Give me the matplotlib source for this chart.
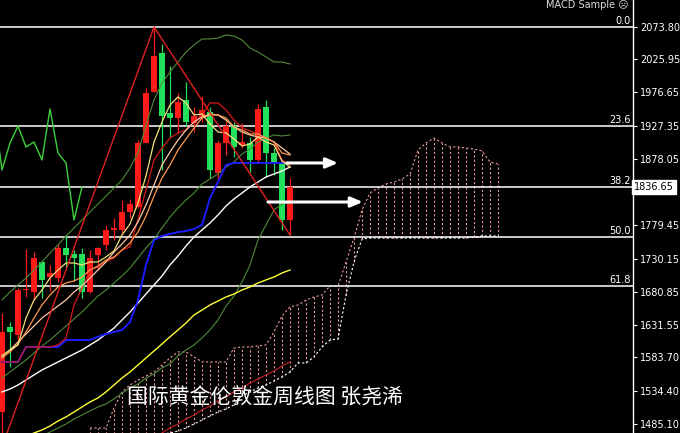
import numpy as np
import matplotlib
matplotlib.use("Agg")
import matplotlib.pyplot as plt
import matplotlib.transforms as mtransforms

# weekly candles (gold, USD)
opens = [1502.8, 1628.9, 1617.0, 1683.7, 1680.8, 1725.3, 1703.0, 1701.5, 1746.0, 1737.1,
         1737.1, 1680.8, 1735.6, 1750.5, 1772.7, 1772.7, 1799.4, 1806.8, 1901.7, 1977.4,
         2035.2, 1946.2, 1938.8, 1965.5, 1931.4, 1940.3, 1947.7, 1857.2, 1901.7, 1926.9,
         1898.8, 1901.7, 1876.5, 1955.1, 1886.9, 1872.1, 1787.5]
highs = [1649.6, 1636.3, 1686.7, 1744.5, 1740.1, 1728.2, 1720.8, 1752.0, 1765.3, 1743.0,
         1746.0, 1743.0, 1747.5, 1780.1, 1790.5, 1817.2, 1818.7, 1906.2, 1983.3, 2073.8,
         2048.5, 2015.9, 1975.9, 1992.2, 1955.1, 1971.4, 1955.1, 1906.2, 1934.4, 1932.9,
         1931.4, 1910.6, 1959.6, 1965.5, 1894.3, 1876.5, 1849.8]
lows = [1451.0, 1569.5, 1609.6, 1673.3, 1668.9, 1671.9, 1682.2, 1695.6, 1717.8, 1697.1,
        1671.9, 1679.3, 1713.4, 1743.0, 1757.9, 1768.3, 1790.5, 1805.3, 1901.7, 1977.4,
        1861.7, 1910.6, 1916.6, 1926.9, 1918.0, 1932.9, 1849.8, 1846.9, 1883.9, 1881.0,
        1894.3, 1858.7, 1872.1, 1851.3, 1854.3, 1772.7, 1765.3]
closes = [1621.4, 1621.4, 1683.7, 1685.2, 1731.2, 1698.6, 1708.9, 1746.0, 1735.6, 1731.2,
          1680.8, 1731.2, 1746.0, 1772.7, 1775.7, 1799.4, 1811.3, 1901.7, 1975.9, 2030.7,
          1941.8, 1938.8, 1962.5, 1932.9, 1941.8, 1950.7, 1861.7, 1901.7, 1926.9, 1895.8,
          1903.2, 1876.5, 1952.2, 1886.9, 1872.1, 1787.5, 1836.65]

# indicator lines, one value per candle
ma5 = [1585.9, 1594.7, 1602.2, 1642.1, 1668.9, 1683.7, 1701.5, 1713.4, 1723.8, 1723.8,
       1720.8, 1725.3, 1725.3, 1732.7, 1741.6, 1765.3, 1781.6, 1812.8, 1852.8, 1903.2,
       1932.9, 1958.1, 1970.0, 1961.1, 1943.3, 1944.7, 1929.9, 1918.0, 1916.6, 1907.7,
       1897.3, 1900.2, 1910.6, 1903.2, 1898.8, 1875.0, 1866.1]
ma10 = [1582.9, 1591.8, 1603.6, 1621.4, 1642.1, 1661.5, 1676.3, 1688.2, 1694.1, 1697.1,
        1703.0, 1713.4, 1719.3, 1728.2, 1732.7, 1743.0, 1753.4, 1769.7, 1793.5, 1823.1,
        1849.8, 1869.1, 1891.3, 1907.7, 1924.0, 1938.8, 1943.3, 1943.3, 1938.8, 1925.5,
        1921.0, 1915.1, 1915.1, 1909.1, 1903.2, 1886.9, 1883.9]
ema_pale = [1585.9, 1594.7, 1606.6, 1618.4, 1630.3, 1642.1, 1651.1, 1660.0, 1668.9, 1680.8,
            1689.7, 1701.5, 1713.4, 1725.3, 1740.1, 1751.9, 1765.3, 1784.6, 1809.8, 1839.4,
            1869.1, 1888.4, 1906.2, 1921.0, 1932.9, 1940.3, 1944.7, 1943.3, 1935.8, 1925.5,
            1918.0, 1913.6, 1910.6, 1909.1, 1903.2, 1894.3, 1885.4]
tenkan = [1577.0, 1577.0, 1577.0, 1599.2, 1599.2, 1599.2, 1599.2, 1602.2, 1612.5, 1661.5,
          1686.7, 1713.4, 1717.8, 1725.3, 1731.2, 1743.0, 1747.5, 1789.0, 1832.0, 1876.5,
          1894.3, 1909.1, 1916.6, 1921.0, 1932.9, 1943.3, 1961.1, 1961.1, 1950.7, 1935.8,
          1924.0, 1919.5, 1915.1, 1909.1, 1903.2, 1876.5, 1869.1]
kijun = [1577.0, 1577.0, 1577.0, 1599.2, 1599.2, 1599.2, 1599.2, 1599.2, 1609.5, 1609.5,
         1609.5, 1609.5, 1614.3, 1618.4, 1621.4, 1624.4, 1636.2, 1668.9, 1720.8, 1757.9,
         1763.8, 1766.8, 1769.7, 1771.2, 1774.2, 1780.1, 1820.2, 1843.9, 1869.1, 1872.1,
         1872.1, 1872.1, 1872.1, 1872.1, 1872.1, 1872.1, 1872.1]
ma_white = [1532.5, 1536.9, 1542.8, 1550.3, 1557.7, 1565.1, 1571.0, 1577.0, 1582.9, 1588.8,
            1594.7, 1602.2, 1609.5, 1618.4, 1627.3, 1639.2, 1651.1, 1664.4, 1677.8, 1691.1,
            1704.5, 1720.8, 1734.1, 1749.0, 1762.3, 1772.7, 1783.1, 1795.0, 1808.3, 1818.7,
            1827.6, 1836.5, 1843.9, 1851.3, 1855.8, 1860.2, 1866.1]
bb_upper = [1668.9, 1680.8, 1691.1, 1701.5, 1713.4, 1725.3, 1738.6, 1750.5, 1763.8, 1775.7,
            1787.5, 1799.4, 1811.3, 1823.1, 1835.0, 1846.9, 1864.7, 1886.9, 1928.4, 1965.5,
            1990.7, 2007.0, 2021.9, 2036.7, 2047.1, 2056.0, 2056.0, 2057.4, 2061.9, 2060.4,
            2054.5, 2042.6, 2036.7, 2029.3, 2021.9, 2021.9, 2018.9]
bb_mid = [1553.2, 1562.1, 1571.0, 1579.9, 1590.3, 1600.7, 1609.5, 1619.9, 1630.3, 1640.7,
          1651.1, 1663.0, 1674.8, 1683.7, 1694.1, 1704.5, 1716.3, 1731.2, 1746.0, 1759.3,
          1775.7, 1792.0, 1805.4, 1817.2, 1827.6, 1840.9, 1848.3, 1855.8, 1866.1, 1873.5,
          1885.4, 1892.8, 1903.2, 1909.1, 1913.6, 1912.1, 1913.6]
bb_lower = [1431.6, 1439.0, 1446.4, 1452.3, 1459.7, 1467.1, 1473.1, 1479.0, 1485.0, 1492.4,
            1498.3, 1504.3, 1510.2, 1514.7, 1522.1, 1531.0, 1538.4, 1544.3, 1553.2, 1559.2,
            1568.1, 1574.0, 1585.9, 1594.7, 1602.2, 1612.5, 1624.4, 1639.2, 1660.0, 1674.8,
            1695.6, 1720.8, 1757.9, 1780.1, 1802.4, 1811.3, 1812.8]
ma_yellow = [1452.3, 1456.8, 1461.2, 1467.1, 1471.6, 1476.1, 1482.0, 1489.4, 1495.4, 1502.8,
             1510.2, 1517.6, 1523.6, 1532.5, 1542.8, 1553.2, 1562.1, 1572.5, 1582.9, 1593.3,
             1603.6, 1614.3, 1624.4, 1634.8, 1646.6, 1654.0, 1661.5, 1667.4, 1673.3, 1677.8,
             1683.7, 1688.2, 1694.1, 1698.6, 1703.0, 1708.9, 1713.4]
ma_red_start = 14
ma_red = [1433.1, 1439.0, 1446.4, 1452.3, 1459.7, 1465.7, 1471.6, 1479.0, 1485.0, 1492.4,
          1498.3, 1505.8, 1511.7, 1519.1, 1525.1, 1532.5, 1538.4, 1545.8, 1551.7, 1557.7,
          1563.6, 1571.0, 1577.0]

# ichimoku cloud, starts at candle 11 and runs 26 weeks ahead
cloud_start = 11
span_a = [1479.0, 1479.0, 1479.0, 1508.7, 1532.5, 1542.8, 1550.3, 1556.2, 1562.1, 1572.5,
          1582.9, 1591.8, 1591.8, 1584.4, 1577.0, 1577.0, 1577.0, 1577.0, 1597.7, 1599.2,
          1599.2, 1600.7, 1602.2, 1621.4, 1645.1, 1658.5, 1661.5, 1668.9, 1673.3, 1676.3,
          1689.7, 1689.7, 1725.3, 1760.8, 1802.4, 1827.6, 1835.0, 1840.9, 1843.9, 1848.3,
          1855.8, 1891.3, 1901.7, 1909.1, 1901.7, 1895.8, 1895.8, 1894.3, 1892.8, 1889.9,
          1873.5, 1870.6]
span_b = [1416.7, 1422.7, 1428.6, 1434.5, 1440.5, 1446.4, 1452.3, 1458.3, 1464.2, 1470.1,
          1471.6, 1474.6, 1479.0, 1485.0, 1490.9, 1496.9, 1502.8, 1507.3, 1513.2, 1526.5,
          1532.5, 1538.4, 1542.8, 1548.8, 1554.7, 1562.1, 1575.5, 1575.5, 1584.4, 1599.2,
          1609.5, 1611.0, 1676.3, 1725.3, 1759.3, 1760.8, 1760.8, 1760.8, 1760.8, 1760.8,
          1760.8, 1760.8, 1760.8, 1760.8, 1760.8, 1760.8, 1760.8, 1760.8, 1762.3, 1763.8,
          1763.8, 1763.8]

fib_ratios = [0.0, 23.6, 38.2, 50.0, 61.8]
zigzag_idx = [0, 19, 36]
price_ticks = [2073.80, 2025.95, 1976.65, 1927.35, 1878.05, 1828.75, 1779.45,
               1730.15, 1680.85, 1631.55, 1583.70, 1534.40, 1485.10]
hidden_tick = 1828.75  # sits under the current-price box
arrow_from = [35.6, 33.25]
arrow_to = [42.0, 45.1]
arrow_level = [1872.1, 1814.2]
titulo = "国际黄金伦敦金周线图 张尧浠"

opens, highs, lows, closes = map(np.array, (opens, highs, lows, closes))
x = np.arange(len(closes))

fig = plt.figure(figsize=(6.8, 4.33), dpi=100, facecolor="black")
ax = fig.add_axes([0, 0, 633 / 680, 1])
ax.set_facecolor("black")
ax.set_xlim(-0.25, 78.875)
ax.set_ylim(1471.6, 2113.8)

# cloud
cx = np.arange(cloud_start, cloud_start + len(span_a))
ax.vlines(cx, span_b, span_a, colors="#e89a9a", linestyles=(0, (2, 2)), lw=0.8, zorder=1)
ax.plot(cx, span_a, color="#e89a9a", ls=(0, (2, 2)), lw=0.8, zorder=1)
ax.plot(cx, span_b, color="white", ls=(0, (2, 2)), lw=0.8, zorder=1)

# fibonacci
hi, lo = highs[19], lows[0]
blend = mtransforms.blended_transform_factory(ax.transAxes, ax.transData)
for r in fib_ratios:
    lvl = hi - r / 100 * (hi - lo)
    ax.axhline(lvl, color="white", lw=1.1, zorder=2)
    ax.text(0.996, lvl + 1.5, f"{r:.1f}", transform=blend, ha="right", va="bottom",
            fontsize=7, color="white")

# candles
col = np.where(closes >= opens, "#ff1a1a", "#22e05a")
ax.vlines(x, lows, highs, colors=col, lw=0.9, zorder=3)
body_lo = np.minimum(opens, closes)
body_h = np.maximum(np.abs(closes - opens), 1.5)
ax.bar(x, body_h, 0.7, bottom=body_lo, color=col, zorder=3)

# lines
ax.plot(x, bb_upper, color="#4f8a3a", lw=0.8, zorder=4)
ax.plot(x, bb_mid, color="#4f8a3a", lw=0.8, zorder=4)
ax.plot(x, bb_lower, color="#4f8a3a", lw=0.8, zorder=4)
ax.plot(x, ma_yellow, color="#ffff33", lw=1.0, zorder=4)
ax.plot(x[ma_red_start:], ma_red, color="#c8202a", lw=0.8, zorder=4)
ax.plot(x, ma_white, color="white", lw=1.0, zorder=4)
ax.plot(x, kijun, color="#1c1cff", lw=1.4, zorder=4)
ax.plot(x, tenkan, color="#d81818", lw=0.9, zorder=4)
ax.plot(x, ema_pale, color="#ffc8a8", lw=0.9, zorder=4)
ax.plot(x, ma10, color="#ff9a50", lw=0.9, zorder=4)
ax.plot(x, ma5, color="#f5e27a", lw=0.9, zorder=4)
ax.plot(x[25:] - 26, closes[25:], color="#3ad13a", lw=1.0, zorder=4)
ax.plot(zigzag_idx, [lows[0], highs[19], lows[36]], color="#e02020", lw=1.0, zorder=4)

for a, b, lv in zip(arrow_from, arrow_to, arrow_level):
    ax.annotate("", xy=(b, lv), xytext=(a, lv), zorder=6,
                arrowprops=dict(arrowstyle="-|>,head_length=0.7,head_width=0.3",
                                color="white", lw=2.2, shrinkA=0, shrinkB=0))

# axis
ax.yaxis.tick_right()
ax.set_yticks(price_ticks)
ax.set_yticklabels(["" if t == hidden_tick else f"{t:.2f}" for t in price_ticks])
ax.tick_params(axis="y", colors="white", length=3, width=0.8, labelsize=7, pad=2)
ax.tick_params(axis="x", bottom=False, labelbottom=False)
for s in ["top", "left", "bottom"]:
    ax.spines[s].set_visible(False)
ax.spines["right"].set_color("white")
ax.spines["right"].set_linewidth(1.0)

fig.text(634 / 680, 1 - 187 / 433, f"{closes[-1]:.2f}", ha="left", va="center",
         fontsize=7, color="black",
         bbox=dict(boxstyle="square,pad=0.2", fc="white", ec="white"))
fig.text(628 / 680, 1 - 5 / 433, "MACD Sample \u2639", ha="right", va="center",
         fontsize=7, color="#dddddd", family=["DejaVu Sans"])
fig.text(127 / 680, 1 - 398 / 433, titulo, ha="left", va="center", fontsize=15,
         color="white", family=["Noto Sans CJK SC", "DejaVu Sans"])

fig.savefig("out.png", dpi=100, facecolor="black")
